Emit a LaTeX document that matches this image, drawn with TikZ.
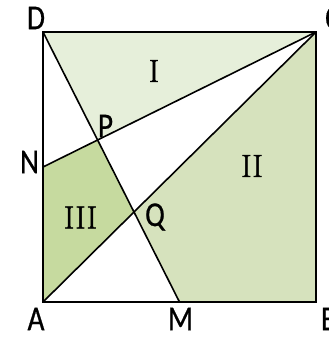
\documentclass[tikz,border=0pt]{standalone}
\usepackage{fontspec}
\newfontfamily\lblfont[FakeStretch=0.84,FakeBold=0.6]{Carlito}
\newfontfamily\romfont[FakeBold=1.4]{Latin Modern Roman}
\usetikzlibrary{calc}
\definecolor{regI}{HTML}{E6EFDA}
\definecolor{regII}{HTML}{D6E2BD}
\definecolor{regIII}{HTML}{C6DA9F}
\tikzset{
  border/.style={line width=2.6pt, line join=miter},
  inner/.style={line width=1.6pt},
  ptlabel/.style={inner sep=0pt, font=\lblfont\fontsize{35}{35}\selectfont},
  reglabel/.style={inner sep=0pt, font=\romfont\fontsize{32}{32}\selectfont},
}
\begin{document}
\begin{tikzpicture}[x=1pt,y=-1pt]
\useasboundingbox (0,0) rectangle (329,338);
\fill[white] (0,0) rectangle (329,338);
\coordinate (A) at (43,302);
\coordinate (B) at (316,302);
\coordinate (C) at (316,32);
\coordinate (D) at (43,32);
\coordinate (M) at ($(A)!0.5!(B)$);
\coordinate (N) at ($(A)!0.5!(D)$);
\coordinate (P) at ($(D)!0.4!(M)$);
\coordinate (Q) at ($(D)!0.6667!(M)$);
% regions
\fill[regI] (D) -- (P) -- (C) -- cycle;
\fill[regII] (Q) -- (M) -- (B) -- (C) -- cycle;
\fill[regIII] (N) -- (P) -- (Q) -- (A) -- cycle;
% connectors
\draw[inner] (D) -- (M);
\draw[inner] (N) -- (C);
\draw[inner] (A) -- (C);
\draw[border] (A) -- (B) -- (C) -- (D) -- cycle;
% point labels
\node[ptlabel] (lD) at (36,18) {D};
\node[ptlabel] (lC) at (333,18) {C};
\node[ptlabel] (lA) at (36,319) {A};
\node[ptlabel] (lM) at (180.5,319) {M};
\node[ptlabel] (lB) at (329,319) {B};
\node[ptlabel] (lN) at (29.5,162) {N};
\node[ptlabel] (lP) at (105.5,126) {P};
\node[ptlabel] (lQ) at (155,217) {Q};
% region labels
\node[reglabel] (rI) at (154,71) {I};
\node[reglabel] (rII) at (252,166) {II};
\node[reglabel] (rIII) at (80.5,217.5) {III};
\end{tikzpicture}
\end{document}
